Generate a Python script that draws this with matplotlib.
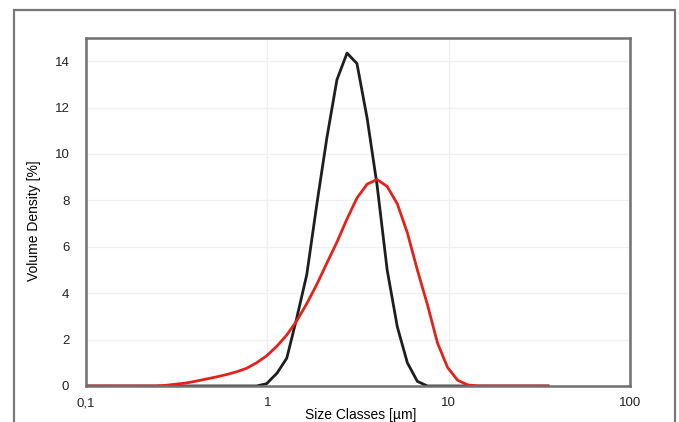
import matplotlib.pyplot as plt
from matplotlib.patches import Rectangle
from matplotlib.ticker import FixedLocator, NullLocator

plt.rcParams['font.family'] = ['Liberation Sans', 'DejaVu Sans']

# size classes [um] (log spaced instrument classes)
size_classes = [0.1, 0.113, 0.128, 0.146, 0.166, 0.188, 0.214, 0.243, 0.276, 0.314,
                0.357, 0.405, 0.46, 0.523, 0.594, 0.675, 0.767, 0.872, 0.991, 1.13,
                1.28, 1.45, 1.65, 1.88, 2.13, 2.42, 2.75, 3.12, 3.55, 4.03,
                4.58, 5.21, 5.92, 6.72, 7.64, 8.68, 9.86, 11.2, 12.7, 14.5,
                16.4, 18.7, 21.2, 24.1, 27.4, 31.1, 35.3]

black_vd = [0, 0, 0, 0, 0, 0, 0, 0, 0, 0,
            0, 0, 0, 0, 0, 0, 0, 0, 0.1, 0.55,
            1.2, 2.9, 4.8, 7.9, 10.7, 13.2, 14.35, 13.9, 11.55, 8.65,
            5.0, 2.55, 1.0, 0.2, 0, 0, 0, 0, 0, 0,
            0, 0, 0, 0, 0, 0, 0]

red_vd = [0, 0, 0, 0, 0, 0, 0, 0, 0.03, 0.08,
          0.13, 0.21, 0.30, 0.39, 0.49, 0.61, 0.76, 1.0, 1.3, 1.72,
          2.2, 2.8, 3.55, 4.4, 5.3, 6.2, 7.2, 8.1, 8.7, 8.9,
          8.6, 7.85, 6.6, 5.0, 3.5, 1.85, 0.8, 0.25, 0.05, 0,
          0, 0, 0, 0, 0, 0, 0]

x_ticks = [0.1, 1, 10, 100]
x_tick_labels = ['0,1', '1', '10', '100']
y_ticks = [0, 2, 4, 6, 8, 10, 12, 14]

fig = plt.figure(figsize=(6.79, 4.22), dpi=100)
ax = fig.add_axes([86/679, 1-386/422, (630-86)/679, (386-38)/422])

# outer frame of the scanned page
fig.patches.append(Rectangle((14/679, -0.02), (675-14)/679, 1-10/422+0.02,
                             transform=fig.transFigure, fill=False,
                             edgecolor='#777777', linewidth=1.6))

ax.plot(size_classes, black_vd, color='#1e1e1e', linewidth=2)
ax.plot(size_classes, red_vd, color='#e3221b', linewidth=2)

ax.set_xscale('log')
ax.set_xlim(0.1, 100)
ax.set_ylim(0, 15)
ax.xaxis.set_major_locator(FixedLocator(x_ticks))
ax.xaxis.set_minor_locator(NullLocator())
ax.set_xticklabels(x_tick_labels)
ax.set_yticks(y_ticks)
ax.tick_params(length=0, labelsize=9.5, colors='#222222')
ax.tick_params(axis='x', pad=8)
ax.tick_params(axis='y', pad=12)

ax.grid(True, color='#f0f0f0', linewidth=1)
ax.set_axisbelow(True)
for s in ax.spines.values():
    s.set_color('#707070')
    s.set_linewidth(1.8)

ax.set_xlabel('Size Classes [µm]', fontsize=10)
ax.xaxis.set_label_coords(0.505, -0.062)
ax.set_ylabel('Volume Density [%]', fontsize=10)
ax.yaxis.set_label_coords(-0.083, 0.475)

fig.savefig('out.png', dpi=100)
